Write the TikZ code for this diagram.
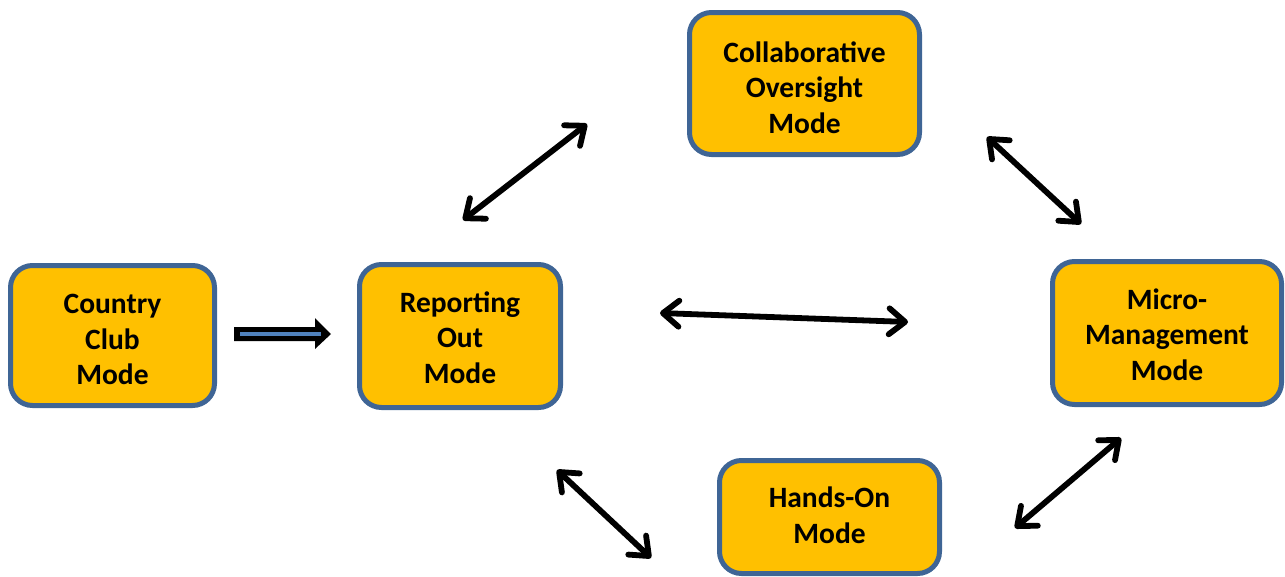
\documentclass[tikz,border=0pt]{standalone}
\usepackage{fontspec}
\setmainfont{Carlito}
\usetikzlibrary{arrows.meta,calc}

\definecolor{modefill}{HTML}{FFC000}
\definecolor{modeedge}{HTML}{3F6595}
\definecolor{shaftblue}{HTML}{4F81BD}

% invisible struts used to nudge a label within its box
\newcommand\modeuprule[1]{\rule{0pt}{#1}}
\newcommand\modedownrule[1]{\rule[-#1]{0pt}{0pt}}

\tikzset{
  modebox/.style={draw=modeedge, fill=modefill, line width=5pt,
    rounded corners=22pt, align=center, inner sep=0pt,
    font=\fontsize{29.5}{35.5}\selectfont\bfseries},
  twoway/.style={line width=5.8pt, line cap=round,
    {Straight Barb[length=16pt,width=26pt,round]}-{Straight Barb[length=16pt,width=26pt,round]}},
  blueline/.style={line width=3.5pt, shaftblue}
}

\begin{document}
\begin{tikzpicture}[x=1pt, y=-1pt]
  \useasboundingbox (0,0) rectangle (1285,576);

  % mode boxes
  \node[modebox, minimum width=204pt, minimum height=140pt] (country) at (112.5,335.5)
    {\modeuprule{27.5pt}Country\\Club\\Mode};
  \node[modebox, minimum width=201pt, minimum height=143pt] (report) at (460,336)
    {\modeuprule{23.5pt}Reporting\\Out\\Mode};
  \node[modebox, minimum width=230pt, minimum height=142pt] (collab) at (804.5,83.5)
    {\modeuprule{28.5pt}Collaborative\\Oversight\\Mode};
  \node[modebox, minimum width=229pt, minimum height=143pt] (micro) at (1167,333)
    {\modeuprule{24pt}Micro-\\Management\\Mode};
  \node[modebox, minimum width=220pt, minimum height=113pt] (hands) at (829.5,517)
    {Hands-On\\Mode\modedownrule{4pt}};

  % end points of the free-standing connectors
  \coordinate (ccL) at (234,334);
  \coordinate (ccR) at (331,334);
  \coordinate (rmA) at (660,313);
  \coordinate (rmB) at (908,322);
  \coordinate (rcA) at (463,220);
  \coordinate (rcB) at (587,124);
  \coordinate (cmA) at (987,137);
  \coordinate (cmB) at (1081,224);
  \coordinate (rhA) at (557,470);
  \coordinate (rhB) at (651,558);
  \coordinate (hmA) at (1015,528);
  \coordinate (hmB) at (1121,438);

  % block arrow from Country Club to Reporting Out
  \fill ($(ccL)+(0,-7)$) -- ($(ccR)+(-16,-7)$) -- ($(ccR)+(-16,-16)$) -- (ccR)
        -- ($(ccR)+(-16,15)$) -- ($(ccR)+(-16,7)$) -- ($(ccL)+(0,7)$) -- cycle;
  \draw[blueline] ($(ccL)+(6,0)$) -- ($(ccR)+(-10,0)$);

  % two-way transitions
  \draw[twoway] (rmA) -- (rmB);
  \draw[twoway] (rcA) -- (rcB);
  \draw[twoway] (cmA) -- (cmB);
  \draw[twoway] (rhA) -- (rhB);
  \draw[twoway] (hmA) -- (hmB);
\end{tikzpicture}
\end{document}
